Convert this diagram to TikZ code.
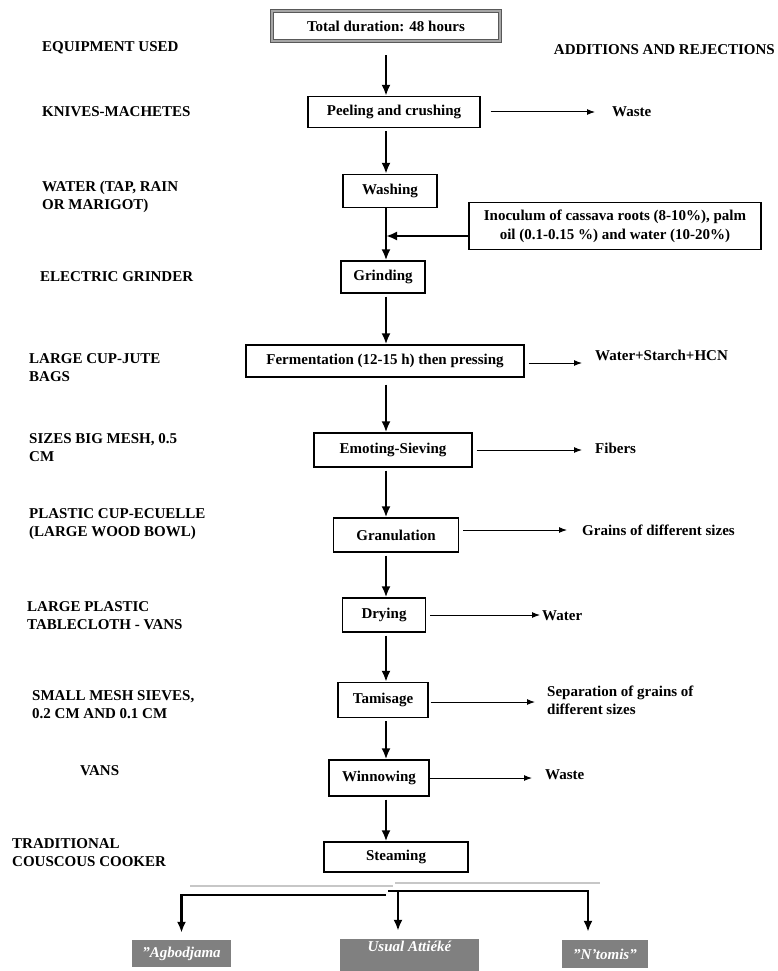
\documentclass[tikz,border=0pt]{standalone}
\usepackage{fontspec}
\setmainfont{Liberation Serif}
\usetikzlibrary{arrows.meta}
\begin{document}
\begin{tikzpicture}[
  x=1pt, y=-1pt,
  font=\fontsize{15}{18}\selectfont\bfseries,
  block/.style={rectangle, draw, line width=1.3pt, inner sep=2pt, minimum height=32pt, align=center},
  equip/.style={anchor=west, align=left, inner sep=0pt},
  reject/.style={anchor=west, align=left, inner sep=0pt},
  product/.style={rectangle, fill=black!50, text=white, inner sep=0pt, font=\fontsize{15}{16}\selectfont\bfseries\itshape},
  flow/.style={-{Latex[length=11pt,width=9pt]}, line width=2.3pt, shorten <=3pt},
  side/.style={-{Latex[length=8pt,width=6pt]}, line width=1pt, shorten <=4pt, shorten >=13pt},
  shade/.style={line width=2.5pt, color=black!22}
]
\useasboundingbox (0,0) rectangle (778,971);
\coordinate (axis) at (386,0);

% process chain
\node[block, draw=black!65, double=black!35, double distance=2pt, line width=0.8pt, minimum width=228pt, minimum height=30pt] (total) at (386,26) {Total duration: 48 hours};
\node[block, minimum width=172pt, minimum height=31pt] (peel) at (394,112) {Peeling and crushing};
\node[block, minimum width=94pt, minimum height=33pt] (wash) at (390,191) {Washing};
\node[block, minimum width=292pt, minimum height=47pt, font=\fontsize{15}{19}\selectfont\bfseries] (inoc) at (615,226) {Inoculum of cassava roots (8-10\%), palm\\oil (0.1-0.15 \%) and water (10-20\%)};
\node[block, minimum width=84pt] (grind) at (383,277) {Grinding};
\node[block, minimum width=278pt] (ferm) at (385,361) {Fermentation (12-15 h) then pressing};
\node[block, minimum width=158pt, minimum height=34pt] (emot) at (393,450) {Emoting-Sieving};
\node[block, minimum width=125pt, minimum height=34pt] (gran) at (396,535) {Granulation};
\node[block, minimum width=83pt, minimum height=34pt] (dry) at (384,615) {Drying};
\node[block, minimum width=90pt, minimum height=35pt] (tamis) at (383,700) {Tamisage};
\node[block, minimum width=100pt, minimum height=36pt] (winnow) at (379,778) {Winnowing};
\node[block, minimum width=144pt, minimum height=30pt] (steam) at (396,857) {Steaming};

% equipment column
\node[equip] (hequip) at (42,48) {EQUIPMENT USED};
\node[equip] (eknife) at (42,112) {KNIVES-MACHETES};
\node[equip] (ewater) at (42,197) {WATER (TAP, RAIN\\OR MARIGOT)};
\node[equip] (egrind) at (40,277) {ELECTRIC GRINDER};
\node[equip] (ejute) at (29,368) {LARGE CUP-JUTE\\BAGS};
\node[equip] (emesh) at (29,448) {SIZES BIG MESH, 0.5\\CM};
\node[equip] (ebowl) at (29,524) {PLASTIC CUP-ECUELLE\\(LARGE WOOD BOWL)};
\node[equip] (ecloth) at (27,616) {LARGE PLASTIC\\TABLECLOTH - VANS};
\node[equip] (esieve) at (32,705) {SMALL MESH SIEVES,\\0.2 CM AND 0.1 CM};
\node[equip] (evans) at (80,771) {VANS};
\node[equip] (ecook) at (12,853) {TRADITIONAL\\COUSCOUS COOKER};

% additions and rejections column
\node[reject, anchor=east] (hadd) at (775,50) {ADDITIONS AND REJECTIONS};
\node[reject] (rwaste) at (612,112) {Waste};
\node[reject] (rhcn) at (595,355) {Water+Starch+HCN};
\node[reject] (rfiber) at (595,448) {Fibers};
\node[reject] (rgrain) at (582,530) {Grains of different sizes};
\node[reject] (rwater) at (542,616) {Water};
\node[reject] (rsep) at (547,700) {Separation of grains of\\different sizes};
\node[reject] (rwaste2) at (545,775) {Waste};

% products
\node[product, minimum width=99pt, minimum height=27pt] (agbo) at (181.5,953.5) {''Agbodjama};
\node[product, minimum width=139pt, text height=12pt, text depth=22pt] (usual) at (409.5,956) {Usual Attiéké};
\node[product, minimum width=86pt, minimum height=28pt] (ntomis) at (605,954) {''N'tomis''};

\coordinate (splitL) at (386,895);
\coordinate (splitR) at (388,891);
\coordinate (splitM) at (398,891);

% main flow
\draw[flow, shorten <=14pt] (total.south -| axis) -- (peel.north -| axis);
\draw[flow] (peel.south -| axis) -- (wash.north -| axis);
\draw[flow, shorten <=0pt] (wash.south -| axis) -- (grind.north -| axis);
\draw[flow] (grind.south -| axis) -- (ferm.north -| axis);
\draw[flow, shorten <=7pt] (ferm.south -| axis) -- (emot.north -| axis);
\draw[flow] (emot.south -| axis) -- (gran.north -| axis);
\draw[flow] (gran.south -| axis) -- (dry.north -| axis);
\draw[flow] (dry.south -| axis) -- (tamis.north -| axis);
\draw[flow] (tamis.south -| axis) -- (winnow.north -| axis);
\draw[flow] (winnow.south -| axis) -- (steam.north -| axis);
\draw[flow, shorten <=0pt] ([yshift=-10pt]inoc.west) -- ([yshift=-10pt]inoc.west -| axis);

% rejections
\draw[side, shorten <=10pt, shorten >=17pt] (peel.east) -- (peel.east -| rwaste.west);
\draw[side] ([yshift=-2pt]ferm.east) -- ([yshift=-2pt]ferm.east -| rhcn.west);
\draw[side] (emot.east) -- (emot.east -| rfiber.west);
\draw[side, shorten >=15pt] ([yshift=5pt]gran.east) -- ([yshift=5pt]gran.east -| rgrain.west);
\draw[side, shorten >=2pt] (dry.east) -- (dry.east -| rwater.west);
\draw[side, shorten <=2pt, shorten >=12pt] ([yshift=-2pt]tamis.east) -- ([yshift=-2pt]tamis.east -| rsep.west);
\draw[side, shorten <=0pt] (winnow.east) -- (winnow.east -| rwaste2.west);

% split to products
\draw[shade] (190,886) -- (393,886);
\draw[shade] (395,883) -- (600,883);
\draw[flow, shorten <=0pt, shorten >=7pt] (splitL) -| (agbo);
\draw[flow, shorten <=0pt, shorten >=8pt] (splitR) -| ([xshift=-17pt]ntomis.north);
\draw[flow, shorten <=0pt, shorten >=8pt] (splitM) -- (splitM |- usual.north);
\end{tikzpicture}
\end{document}
